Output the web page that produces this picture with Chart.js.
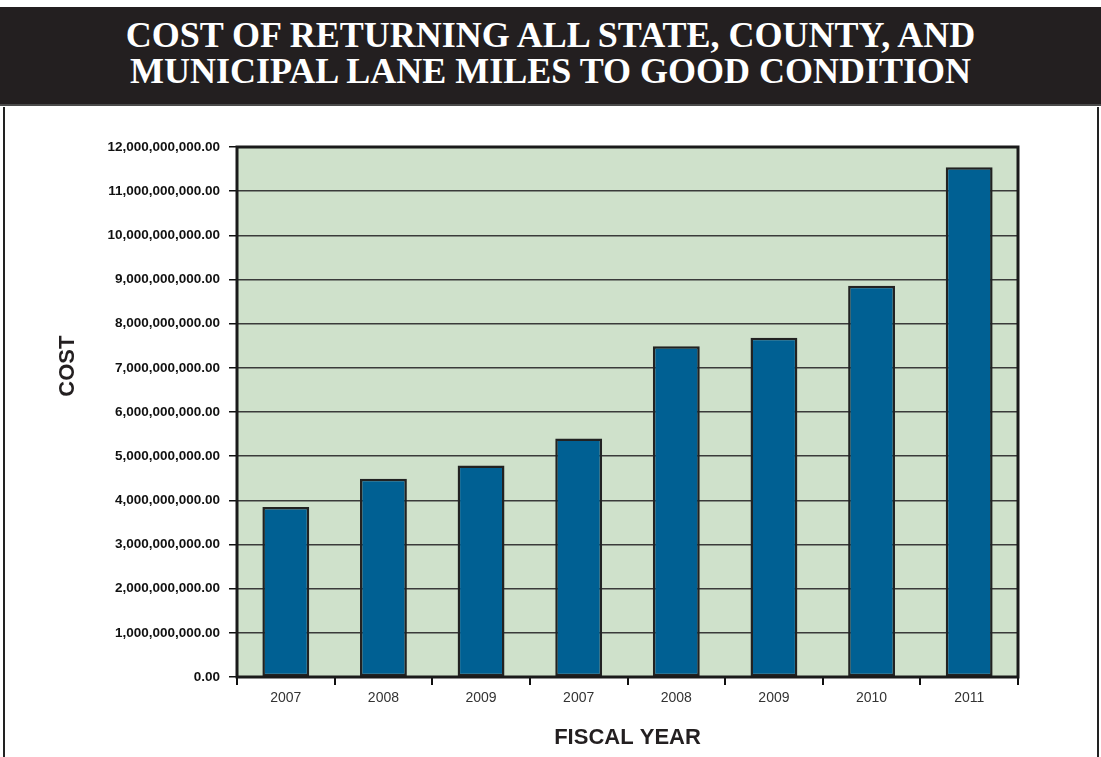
<!DOCTYPE html>
<html>
<head>
<meta charset="utf-8">
<script src="https://cdn.jsdelivr.net/npm/chart.js@4.4.1/dist/chart.umd.min.js"></script>
<style>
  html, body { margin: 0; padding: 0; background: #fff; }
  body { width: 1101px; height: 757px; position: relative; overflow: hidden; }
  #header {
    position: absolute; left: 0; top: 7px; width: 1101px; height: 99px;
    background: #231f20; color: #fff; text-align: center;
    font-family: "Liberation Serif", "Times New Roman", serif; font-weight: bold;
    font-size: 36px; line-height: 36px; box-sizing: border-box; padding-top: 10px;
    border-bottom: 2px solid #4a4a4a;
  }
  #frame {
    position: absolute; left: 3px; top: 107px; width: 1092px; height: 660px;
    border-left: 2px solid #222; border-right: 2px solid #222;
  }
  #box { position: absolute; left: 0; top: 107px; width: 1101px; height: 650px; }
</style>
</head>
<body>
<div id="header">COST OF RETURNING ALL STATE, COUNTY, AND<br>MUNICIPAL LANE MILES TO GOOD CONDITION</div>
<div id="frame"></div>
<div id="box"><canvas id="grafik"></canvas></div>
<script>
const canvas = document.getElementById('grafik');

const years = ['2007', '2008', '2009', '2007', '2008', '2009', '2010', '2011'];
const costs = [3850000000, 4490000000, 4790000000, 5400000000, 7490000000, 7680000000, 8860000000, 11540000000];

// plot background and frame
const plotFrame = {
    id: 'plotFrame',
    beforeDraw(chart) {
        const { ctx, chartArea: a } = chart;
        ctx.save();
        ctx.fillStyle = '#cfe1cb';
        ctx.fillRect(a.left, a.top, a.right - a.left, a.bottom - a.top);
        ctx.restore();
    },
    afterDraw(chart) {
        const { ctx, chartArea: a } = chart;
        ctx.save();
        ctx.strokeStyle = '#1a1a1a';
        ctx.lineWidth = 3;
        ctx.strokeRect(a.left, a.top, a.right - a.left, a.bottom - a.top);
        ctx.restore();
    }
};

const data = {
    labels: years,
    datasets: [{
        data: costs,
        backgroundColor: '#006093',
        borderColor: '#222222',
        borderWidth: 2.5,
        borderSkipped: false,
        barPercentage: 0.48,
        categoryPercentage: 1
    }]
};

// the axis title sits above the middle of the axis in the original
const yTitle = '\u00a0'.repeat(15) + 'COST';

const options = {
    responsive: true,
    maintainAspectRatio: false,
    animation: false,
    layout: { padding: { top: 40, right: 83, bottom: 0, left: 0 } },
    plugins: { legend: { display: false }, tooltip: { enabled: false } },
    scales: {
        x: {
            grid: { drawOnChartArea: false, drawTicks: true, tickLength: 8, tickColor: '#111', lineWidth: 2 },
            border: { display: false },
            ticks: { color: '#333', font: { family: 'Liberation Sans, Arial', size: 14 }, padding: 5, maxRotation: 0 },
            title: { display: true, text: 'FISCAL YEAR', color: '#231f20',
                font: { family: 'Liberation Sans, Arial', size: 22, weight: 'bold' }, padding: { top: 0, bottom: 6 } },
            afterFit(scale) { scale.height = 80; }
        },
        y: {
            min: 0,
            max: 12000000000,
            grid: { color: '#3a3a3a', lineWidth: 1.5, tickColor: '#111', tickLength: 8 },
            border: { display: false },
            ticks: {
                stepSize: 1000000000,
                padding: 9,
                color: '#111',
                font: { family: 'Liberation Sans, Arial', size: 13.5, weight: 'bold' },
                callback: (v) => v.toLocaleString('en-US', { minimumFractionDigits: 2, maximumFractionDigits: 2 })
            },
            title: { display: true, text: yTitle, color: '#231f20',
                font: { family: 'Liberation Sans, Arial', size: 22, weight: 'bold' }, padding: { top: 55, bottom: 0 } },
            afterFit(scale) { scale.width = 237; }
        }
    }
};

const chart = new Chart(canvas, { type: 'bar', data: data, options: options, plugins: [plotFrame] });
</script>
</body>
</html>
